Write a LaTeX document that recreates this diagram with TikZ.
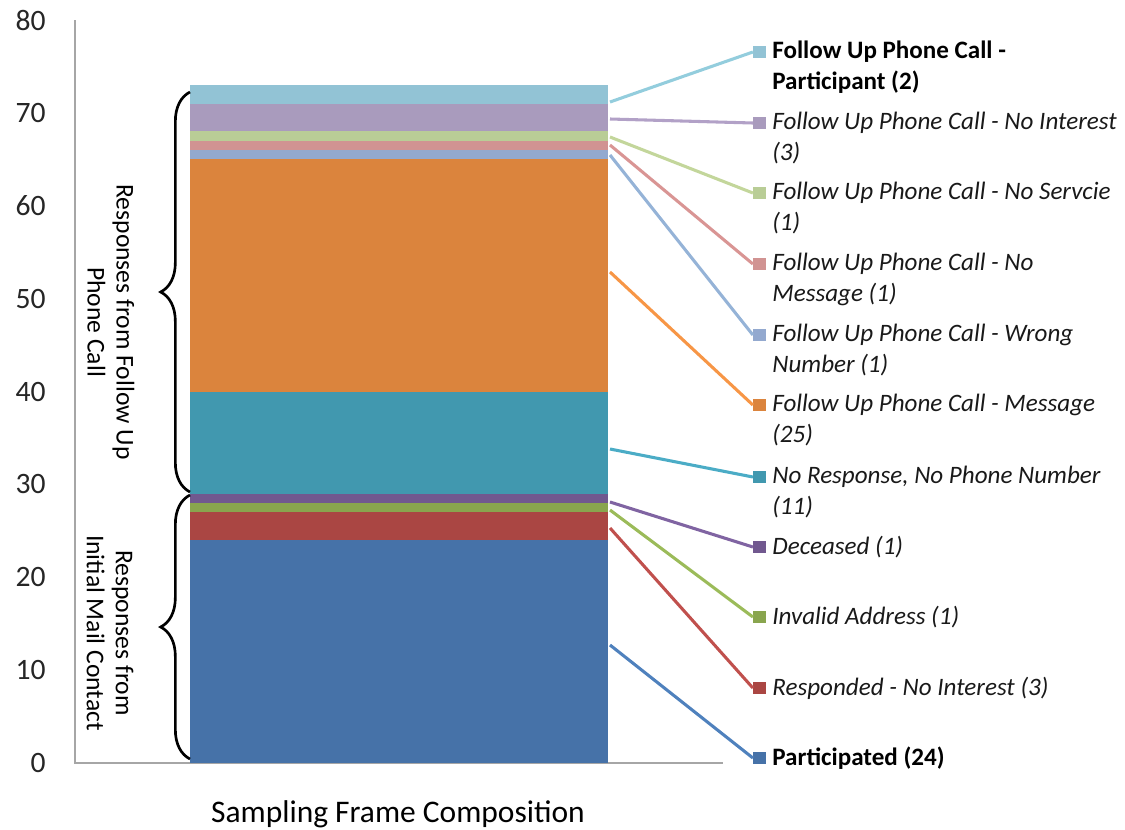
\documentclass[tikz,border=0pt]{standalone}
\usepackage{fontspec}
\setmainfont{Carlito}
\usetikzlibrary{positioning,decorations.pathreplacing}
\definecolor{cPart}{HTML}{4672A8}
\definecolor{cResp}{HTML}{AA4643}
\definecolor{cInv}{HTML}{89A54E}
\definecolor{cDec}{HTML}{71588F}
\definecolor{cNoR}{HTML}{4198AF}
\definecolor{cMsg}{HTML}{DB843D}
\definecolor{cWrg}{HTML}{93A9CF}
\definecolor{cNoM}{HTML}{D19392}
\definecolor{cNoS}{HTML}{B9CD96}
\definecolor{cNoI}{HTML}{A99BBD}
\definecolor{cFup}{HTML}{92C3D5}
\definecolor{lPart}{HTML}{4F81BD}
\definecolor{lResp}{HTML}{C0504D}
\definecolor{lInv}{HTML}{9BBB59}
\definecolor{lDec}{HTML}{8064A2}
\definecolor{lNoR}{HTML}{4BACC6}
\definecolor{lMsg}{HTML}{F79646}
\definecolor{lWrg}{HTML}{95B3D7}
\definecolor{lNoM}{HTML}{D99594}
\definecolor{lNoS}{HTML}{C3D69B}
\definecolor{lNoI}{HTML}{B2A1C7}
\definecolor{lFup}{HTML}{93CDDD}
\definecolor{axisgray}{HTML}{A6A6A6}

\begin{document}
\begin{tikzpicture}[x=0.75pt,y=-0.75pt]
\tikzstyle{sq}=[rectangle, minimum size=9.5pt, inner sep=0pt]
\tikzstyle{lead}=[line width=2.3pt]
\tikzstyle{leg}=[inner sep=0pt, align=left, font=\fontsize{18.8}{23.25}\selectfont\itshape, text=black!90]
\tikzstyle{legb}=[inner sep=0pt, align=left, font=\fontsize{18.8}{23.25}\selectfont\bfseries]
\tikzstyle{tick}=[anchor=east, inner sep=0pt, font=\fontsize{22.2}{26}\selectfont, text=black!85]
\tikzstyle{grp}=[align=center, inner sep=0pt, font=\fontsize{19.2}{21.75}\selectfont]
\tikzstyle{brc}=[decorate, decoration={brace, amplitude=22pt, aspect=0.5}, line width=2pt]
\useasboundingbox (0,0) rectangle (1125,829);

% axis
\foreach \v in {0,10,...,80}
  \node[tick] (y\v) at (46,{763-9.2875*\v}) {\v};
\coordinate (atop) at (75,20);
\coordinate (aorig) at (75,763);
\coordinate (aend) at (723,763);
\draw[axisgray, line width=1pt] (atop) -- (aorig) -- (aend);

% stacked bar
\fill[cPart] (190,763) rectangle (608,540.1);
\fill[cResp] (190,540.1) rectangle (608,512.2);
\fill[cInv] (190,512.2) rectangle (608,502.9);
\fill[cDec] (190,502.9) rectangle (608,493.7);
\fill[cNoR] (190,493.7) rectangle (608,391.5);
\fill[cMsg] (190,391.5) rectangle (608,159.3);
\fill[cWrg] (190,159.3) rectangle (608,150.0);
\fill[cNoM] (190,150.0) rectangle (608,140.7);
\fill[cNoS] (190,140.7) rectangle (608,131.4);
\fill[cNoI] (190,131.4) rectangle (608,103.6);
\fill[cFup] (190,103.6) rectangle (608,85.0);

% leader starts
\coordinate (p1) at (610,645);
\coordinate (p2) at (610,528);
\coordinate (p3) at (610,510);
\coordinate (p4) at (610,502);
\coordinate (p5) at (610,449);
\coordinate (p6) at (610,272);
\coordinate (p7) at (610,155);
\coordinate (p8) at (610,145);
\coordinate (p9) at (610,137);
\coordinate (p10) at (610,119);
\coordinate (p11) at (610,102);

% legend squares
\node[sq, fill=cPart] (s1) at (759.5,758) {};
\node[sq, fill=cResp] (s2) at (759.5,688) {};
\node[sq, fill=cInv] (s3) at (759.5,617) {};
\node[sq, fill=cDec] (s4) at (759.5,547) {};
\node[sq, fill=cNoR] (s5) at (759.5,477) {};
\node[sq, fill=cMsg] (s6) at (759.5,405) {};
\node[sq, fill=cWrg] (s7) at (759.5,335) {};
\node[sq, fill=cNoM] (s8) at (759.5,264) {};
\node[sq, fill=cNoS] (s9) at (759.5,193) {};
\node[sq, fill=cNoI] (s10) at (759.5,123) {};
\node[sq, fill=cFup] (s11) at (759.5,52) {};

\draw[lead, lPart] (p1) -- (s1.west);
\draw[lead, lResp] (p2) -- (s2.west);
\draw[lead, lInv] (p3) -- (s3.west);
\draw[lead, lDec] (p4) -- (s4.west);
\draw[lead, lNoR] (p5) -- (s5.west);
\draw[lead, lMsg] (p6) -- (s6.west);
\draw[lead, lWrg] (p7) -- (s7.west);
\draw[lead, lNoM] (p8) -- (s8.west);
\draw[lead, lNoS] (p9) -- (s9.west);
\draw[lead, lNoI] (p10) -- (s10.west);
\draw[lead, lFup] (p11) -- (s11.west);

% legend texts
\node[legb] (t1) [right=4.5pt of s1] {Participated (24)};
\node[leg] (t2) [right=4.5pt of s2] {Responded - No Interest (3)};
\node[leg] (t3) [right=4.5pt of s3] {Invalid Address (1)};
\node[leg] (t4) [right=4.5pt of s4] {Deceased (1)};
\node[leg] (t5) [right=4.5pt of s5, yshift=-11.6pt] {No Response, No Phone Number\\(11)};
\node[leg] (t6) [right=4.5pt of s6, yshift=-11.6pt] {Follow Up Phone Call - Message\\(25)};
\node[leg] (t7) [right=4.5pt of s7, yshift=-11.6pt] {Follow Up Phone Call - Wrong\\Number (1)};
\node[leg] (t8) [right=4.5pt of s8, yshift=-11.6pt] {Follow Up Phone Call - No\\Message (1)};
\node[leg] (t9) [right=4.5pt of s9, yshift=-11.6pt] {Follow Up Phone Call - No Servcie\\(1)};
\node[leg] (t10) [right=4.5pt of s10, yshift=-11.6pt] {Follow Up Phone Call - No Interest\\(3)};
\node[legb] (t11) [right=4.5pt of s11, yshift=-11.6pt] {Follow Up Phone Call -\\Participant (2)};

% group braces
\coordinate (b1) at (190,759);
\coordinate (b2) at (190,495);
\coordinate (b3) at (190,492);
\coordinate (b4) at (190,92);
\draw[brc] (b1) -- (b2);
\draw[brc] (b3) -- (b4);
\node[grp, rotate=-90] (g1) at (111,322) {Responses from Follow Up\\Phone Call};
\node[grp, rotate=-90] (g2) at (110,633) {Responses from\\Initial Mail Contact};

\node[anchor=base, inner sep=0pt, font=\fontsize{23.6}{28}\selectfont] (ttl) at (398,822) {Sampling Frame Composition};
\end{tikzpicture}
\end{document}
